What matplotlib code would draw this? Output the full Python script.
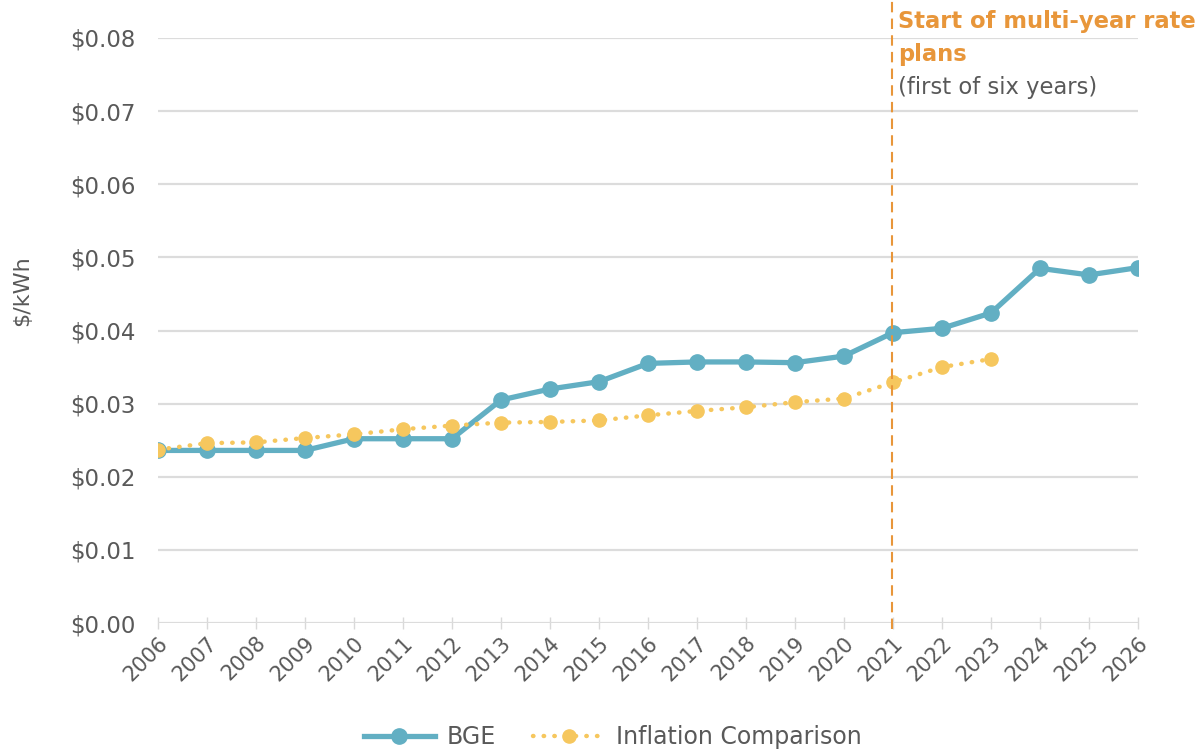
import matplotlib
matplotlib.use("Agg")
import matplotlib.pyplot as plt
from matplotlib.ticker import FuncFormatter

plt.rcParams['font.family'] = ['DejaVu Sans']

years = list(range(2006, 2027))
bge = [0.0236, 0.0236, 0.0236, 0.0236, 0.0252, 0.0252, 0.0252, 0.0305, 0.0320,
       0.0330, 0.0355, 0.0357, 0.0357, 0.0356, 0.0365, 0.0397, 0.0403, 0.0424,
       0.0485, 0.0476, 0.0486]
infl_years = list(range(2006, 2024))
inflation = [0.0237, 0.0246, 0.0247, 0.0253, 0.0258, 0.0265, 0.0270, 0.0274,
             0.0275, 0.0277, 0.0284, 0.0290, 0.0295, 0.0302, 0.0307, 0.0329,
             0.0350, 0.0361]
y_ticks = [0.00, 0.01, 0.02, 0.03, 0.04, 0.05, 0.06, 0.07, 0.08]
marker_year = 2021

TEAL = '#62AFC3'
YELLOW = '#F6C75E'
ORANGE = '#E8963A'
GRAY = '#595959'

fig = plt.figure(figsize=(12.04, 7.49), dpi=100)
ax = fig.add_axes([158/1204, 1 - 623/749, (1138-158)/1204, (623-38)/749])

ax.plot(infl_years, inflation, color=YELLOW, linestyle=(0, (0.1, 2.3)), linewidth=3.2,
        marker='o', markersize=9.5, zorder=3, label='Inflation Comparison',
        dash_capstyle='round')
ax.plot(years, bge, color=TEAL, linewidth=3.8, marker='o', markersize=11,
        zorder=2, label='BGE')

ax.axvline(marker_year - 0.03, color=ORANGE, linestyle=(0, (5, 3)), linewidth=1.5,
           ymin=-0.01, ymax=1.066, clip_on=False, zorder=5)

ax.set_xlim(2006, 2026)
ax.set_ylim(0, 0.08)
ax.set_yticks(y_ticks)
ax.yaxis.set_major_formatter(FuncFormatter(lambda v, p: f"${v:.2f}"))
ax.set_xticks(years)
ax.set_xticklabels([str(y) for y in years], rotation=45, ha='right',
                   rotation_mode='anchor', fontsize=15, color=GRAY)
ax.tick_params(axis='y', length=0, labelsize=16.5, labelcolor=GRAY, pad=16)
ax.tick_params(axis='x', length=8, width=1, color='#d9d9d9', pad=3, direction='inout')
ax.grid(axis='y', color='#dcdcdc', linewidth=1.6)
ax.set_axisbelow(True)
for s in ax.spines.values():
    s.set_visible(False)

ax.set_ylabel('$/kWh', fontsize=16, color=GRAY)
ax.yaxis.set_label_coords(-0.1286, 0.5675)

ax.text(2021.1, 0.0822, 'Start of multi-year rate', color=ORANGE,
        fontsize=16.3, fontweight='bold', va='center', ha='left')
ax.text(2021.1, 0.0777, 'plans', color=ORANGE,
        fontsize=16.3, fontweight='bold', va='center', ha='left')
ax.text(2021.1, 0.0732, '(first of six years)', color=GRAY, fontsize=16.3,
        va='center', ha='left')

handles, labels = ax.get_legend_handles_labels()
leg = fig.legend(handles[::-1], labels[::-1], loc='center',
                 bbox_to_anchor=(0.509, 1 - 737/749), ncol=2, frameon=False,
                 fontsize=17, handlelength=3.0, handletextpad=0.5,
                 columnspacing=1.6, borderpad=0)
for t in leg.get_texts():
    t.set_color(GRAY)

fig.savefig('out.png', dpi=100)
